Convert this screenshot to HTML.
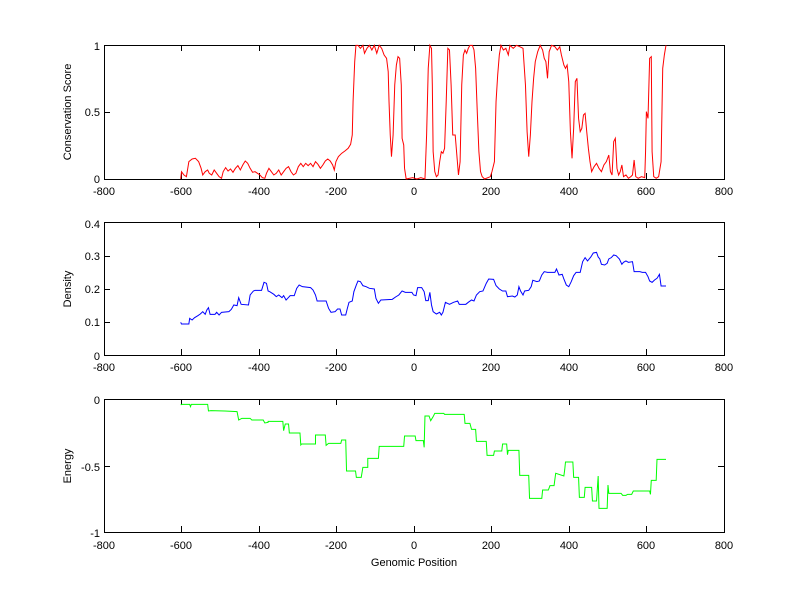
<!DOCTYPE html>
<html><head><meta charset="utf-8"><style>
html,body{margin:0;padding:0;background:#fff;}
svg{display:block;font-family:"Liberation Sans",Arial,sans-serif;font-size:11px;}
</style></head><body>
<svg width="800" height="599" viewBox="0 0 800 599" xmlns="http://www.w3.org/2000/svg">
<rect width="800" height="599" fill="#fff"/>
<g fill="none" stroke="#000" stroke-width="1">
<rect x="104.5" y="45.5" width="620" height="134"/>
<rect x="104.5" y="222.5" width="620" height="133"/>
<rect x="104.5" y="399.5" width="620" height="133"/>
<path d="M181.5,179v-6M259.5,179v-6M336.5,179v-6M414.5,179v-6M491.5,179v-6M569.5,179v-6M646.5,179v-6M181.5,45v6M259.5,45v6M336.5,45v6M414.5,45v6M491.5,45v6M569.5,45v6M646.5,45v6
M181.5,355v-6M259.5,355v-6M336.5,355v-6M414.5,355v-6M491.5,355v-6M569.5,355v-6M646.5,355v-6M181.5,222v6M259.5,222v6M336.5,222v6M414.5,222v6M491.5,222v6M569.5,222v6M646.5,222v6
M181.5,532v-6M259.5,532v-6M336.5,532v-6M414.5,532v-6M491.5,532v-6M569.5,532v-6M646.5,532v-6M181.5,399v6M259.5,399v6M336.5,399v6M414.5,399v6M491.5,399v6M569.5,399v6M646.5,399v6
M104,112.5h6M724,112.5h-6M104,322.5h6M724,322.5h-6M104,289.5h6M724,289.5h-6M104,256.5h6M724,256.5h-6M104,466.5h6M724,466.5h-6"/>
</g>
<g text-anchor="middle">
<text x="104" y="195">-800</text><text x="181" y="195">-600</text><text x="259" y="195">-400</text><text x="336" y="195">-200</text><text x="414" y="195">0</text><text x="491" y="195">200</text><text x="569" y="195">400</text><text x="646" y="195">600</text><text x="724" y="195">800</text>
<text x="104" y="371">-800</text><text x="181" y="371">-600</text><text x="259" y="371">-400</text><text x="336" y="371">-200</text><text x="414" y="371">0</text><text x="491" y="371">200</text><text x="569" y="371">400</text><text x="646" y="371">600</text><text x="724" y="371">800</text>
<text x="104" y="549">-800</text><text x="181" y="549">-600</text><text x="259" y="549">-400</text><text x="336" y="549">-200</text><text x="414" y="549">0</text><text x="491" y="549">200</text><text x="569" y="549">400</text><text x="646" y="549">600</text><text x="724" y="549">800</text>
<text x="414" y="566">Genomic Position</text>
<text transform="translate(71,112) rotate(-90)">Conservation Score</text>
<text transform="translate(71,289) rotate(-90)">Density</text>
<text transform="translate(71,466) rotate(-90)">Energy</text>
</g>
<g text-anchor="end">
<text x="100" y="50">1</text><text x="100" y="116">0.5</text><text x="100" y="183">0</text>
<text x="100" y="228">0.4</text><text x="100" y="260">0.3</text><text x="100" y="293">0.2</text><text x="100" y="326">0.1</text><text x="100" y="360">0</text>
<text x="100" y="404">0</text><text x="100" y="471">-0.5</text><text x="100" y="537">-1</text>
</g>
<g transform="translate(90,35) scale(0.4085,0.3333)">
<polyline fill="none" stroke="#f00" stroke-width="1" vector-effect="non-scaling-stroke" points="222,432 224,410 230,420 236,425 242,380 250,372 258,370 266,380 272,400 276,420 282,410 288,405 292,415 298,420 304,405 310,415 316,425 322,430 326,410 332,398 338,408 344,402 350,412 356,400 362,392 368,405 374,390 380,378 386,385 392,400 398,412 404,410 410,415 416,420 422,428 428,430 432,415 438,400 444,410 450,420 456,415 462,405 468,420 474,410 480,400 486,395 492,410 498,420 504,415 510,395 516,385 522,395 528,385 534,392 540,385 546,395 552,380 558,388 564,400 570,390 576,378 582,372 588,378 594,390 598,405 602,380 608,365 616,355 624,348 632,340 638,328 642,300 644,200 648,80 651,31 656,31 662,40 668,31 672,55 678,40 684,31 690,45 696,31 702,55 708,31 714,40 720,60 726,70 730,110 732,200 735,300 738,365 742,300 746,150 750,90 754,65 758,70 762,150 764,310 768,330 770,400 774,432 790,428 800,432 810,428 820,432 824,300 828,100 832,31 836,40 838,150 840,350 844,410 848,425 852,420 856,380 860,350 864,355 868,340 872,200 876,40 880,45 884,150 888,300 894,300 898,360 902,420 906,380 910,150 914,60 918,45 922,55 926,40 930,31 936,31 940,45 944,100 948,230 952,350 956,410 960,425 966,432 980,425 984,410 990,380 994,200 998,120 1002,60 1006,31 1012,45 1018,40 1024,60 1028,31 1036,40 1044,31 1052,35 1060,40 1066,150 1070,290 1074,365 1078,300 1082,200 1086,130 1090,80 1096,50 1102,31 1108,45 1112,70 1116,80 1120,130 1124,50 1130,31 1138,35 1144,45 1150,35 1154,60 1160,90 1164,100 1168,90 1172,140 1176,290 1180,370 1184,280 1188,140 1192,130 1196,250 1200,290 1204,280 1208,240 1212,235 1216,290 1220,340 1224,380 1228,410 1234,395 1240,385 1246,400 1252,410 1258,390 1264,380 1270,360 1274,410 1278,420 1282,320 1286,310 1290,400 1294,420 1298,410 1302,390 1306,425 1312,420 1318,430 1324,425 1328,420 1332,375 1336,425 1342,430 1350,425 1358,428 1360,350 1362,230 1366,250 1370,70 1374,65 1376,350 1380,425 1386,430 1392,425 1398,380 1402,100 1406,60 1410,31"/>
</g>
<g transform="translate(90,215) scale(0.4085,0.3333)">
<polyline fill="none" stroke="#00f" stroke-width="1" vector-effect="non-scaling-stroke" points="222,322 224,327 242,327 244,310 250,315 256,308 264,302 270,297 276,290 282,298 286,285 290,278 294,298 306,298 310,292 316,300 322,292 340,290 346,283 352,270 360,272 364,248 370,268 388,270 392,240 400,228 404,226 420,226 426,202 432,205 436,228 440,230 450,238 456,245 462,240 470,248 474,242 480,255 484,250 490,242 500,242 506,220 512,210 520,215 540,218 546,225 552,240 556,258 578,258 584,280 590,292 600,290 606,282 612,282 616,300 626,300 630,280 634,262 642,258 646,230 652,210 656,198 662,200 668,212 676,215 684,220 696,222 700,250 706,265 712,255 740,253 748,246 756,240 764,228 772,232 788,232 792,240 798,242 802,218 812,218 818,230 822,257 828,257 832,232 836,270 840,290 848,297 856,292 860,300 864,292 870,262 880,268 890,262 900,258 904,268 920,268 926,262 934,255 940,258 946,240 954,230 962,228 970,205 976,192 988,193 994,212 1002,222 1010,228 1018,228 1022,245 1034,243 1040,246 1046,240 1050,215 1054,228 1060,240 1064,228 1074,226 1080,215 1084,196 1094,200 1100,198 1106,180 1112,170 1120,172 1138,172 1142,162 1148,180 1156,178 1160,192 1166,210 1172,215 1178,200 1184,182 1190,172 1200,172 1206,140 1212,128 1218,138 1222,132 1226,126 1232,114 1240,112 1244,126 1248,132 1252,148 1260,150 1266,145 1270,132 1276,128 1282,120 1288,122 1296,132 1302,148 1306,142 1312,138 1318,142 1328,140 1332,170 1346,170 1352,172 1360,172 1366,185 1370,198 1376,202 1382,195 1388,190 1394,178 1398,213 1410,213"/>
</g>
<g transform="translate(90,390) scale(0.4085,0.3333)">
<polyline fill="none" stroke="#0f0" stroke-width="1" vector-effect="non-scaling-stroke" points="222,45 224,43 244,43 246,50 248,43 288,43 290,63 296,62 330,63 360,65 364,90 372,85 392,85 396,90 424,90 428,99 436,97 436,94 472,94 474,122 478,102 486,102 488,129 514,129 516,165 518,162 552,162 552,135 576,135 578,166 584,160 614,160 616,150 626,150 628,243 650,243 652,262 664,262 668,232 680,232 680,205 706,205 708,169 768,169 770,138 796,138 798,152 816,152 818,172 820,78 830,78 834,92 840,80 844,70 866,70 868,73 916,73 918,100 930,100 934,118 944,118 946,154 970,154 972,196 988,196 990,183 1008,183 1010,162 1020,162 1022,194 1024,181 1050,181 1052,256 1074,256 1076,325 1106,325 1108,300 1122,300 1126,287 1136,287 1140,250 1160,258 1162,240 1164,216 1182,216 1184,262 1196,262 1198,322 1210,322 1212,292 1228,292 1230,333 1240,333 1242,295 1244,258 1246,355 1266,355 1268,285 1270,310 1300,310 1304,316 1312,316 1316,313 1326,313 1330,303 1370,303 1372,313 1374,271 1386,271 1388,208 1410,208"/>
</g>
</svg>
</body></html>
